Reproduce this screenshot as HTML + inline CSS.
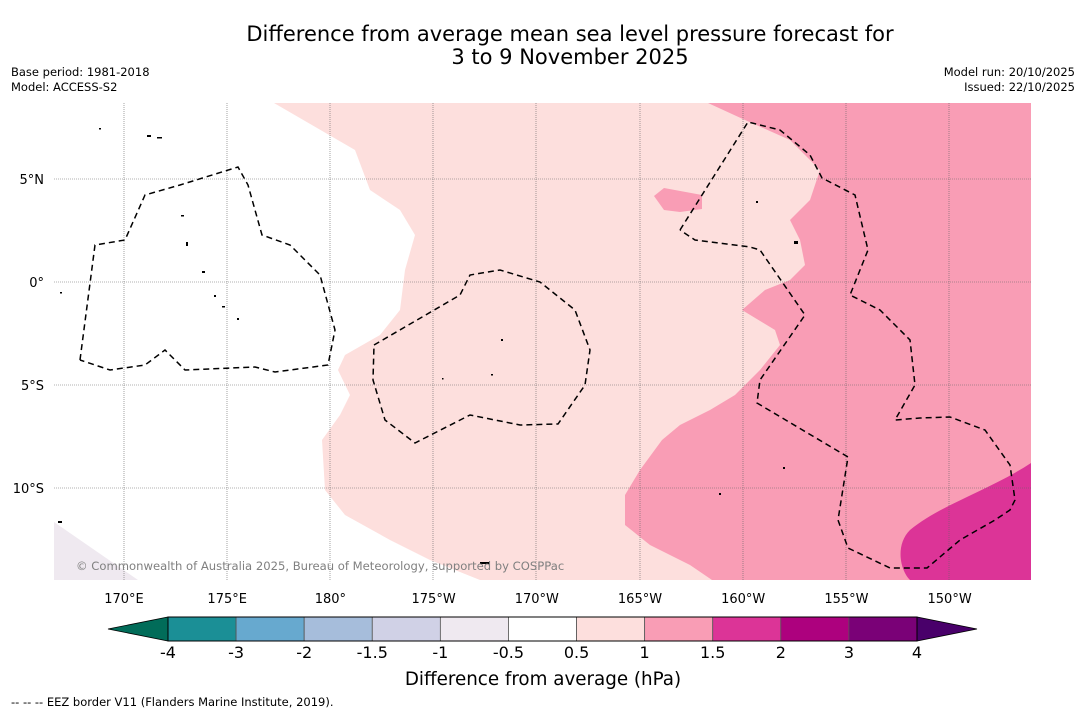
<!DOCTYPE html>
<html><head><meta charset="utf-8"><style>
body{margin:0;background:#fff;font-family:"DejaVu Sans","Liberation Sans",sans-serif;}
svg text{font-family:"DejaVu Sans","Liberation Sans",sans-serif;}
</style></head><body>
<svg id="c" width="1085" height="713" viewBox="0 0 1085 713" xmlns="http://www.w3.org/2000/svg">
<rect width="1085" height="713" fill="#fff"/>
<text x="570" y="41" font-size="21" text-anchor="middle">Difference from average mean sea level pressure forecast for</text>
<text x="570" y="64" font-size="21" text-anchor="middle">3 to 9 November 2025</text>
<text x="11" y="76" font-size="11.5">Base period: 1981-2018</text>
<text x="11" y="91" font-size="11.5">Model: ACCESS-S2</text>
<text x="1075" y="76" font-size="11.5" text-anchor="end">Model run: 20/10/2025</text>
<text x="1075" y="91" font-size="11.5" text-anchor="end">Issued: 22/10/2025</text>
<g>
<clipPath id="mc"><rect x="54" y="103" width="977" height="477"/></clipPath>
<g clip-path="url(#mc)">
<rect x="54" y="103" width="977" height="477" fill="#fff"/>
<polygon fill="#fddfdd" points="274,103 1031,103 1031,580 480,580 430,560 390,540 345,515 325,490 322,440 340,415 350,395 338,370 345,355 380,335 400,310 405,270 415,235 400,210 370,190 355,150"/>
<polygon fill="#f99db5" points="708,103 1031,103 1031,580 712,580 690,565 650,545 625,525 625,495 640,470 662,440 680,425 710,410 735,395 760,370 780,345 775,330 742,310 765,290 790,280 805,265 800,240 790,220 810,200 820,170 790,140 745,120"/>
<polygon fill="#f99db5" points="654,196 664,188 702,195 702,209 680,212 664,210"/>
<path fill="#dc3497" d="M1031,463 C990,490 940,505 910,530 C895,545 900,570 910,580 L1031,580 Z"/>
<polygon fill="#efe9f0" points="54,522 54,580 138,580"/>
<g stroke="#666" stroke-width="0.6" stroke-dasharray="1,1">
<line x1="124" y1="103" x2="124" y2="580"/><line x1="227" y1="103" x2="227" y2="580"/><line x1="330" y1="103" x2="330" y2="580"/><line x1="433" y1="103" x2="433" y2="580"/><line x1="536" y1="103" x2="536" y2="580"/><line x1="640" y1="103" x2="640" y2="580"/><line x1="743" y1="103" x2="743" y2="580"/><line x1="846" y1="103" x2="846" y2="580"/><line x1="949" y1="103" x2="949" y2="580"/>
<line x1="54" y1="179" x2="1031" y2="179"/><line x1="54" y1="282" x2="1031" y2="282"/><line x1="54" y1="385" x2="1031" y2="385"/><line x1="54" y1="488" x2="1031" y2="488"/>
</g>
<g fill="none" stroke="#000" stroke-width="1.5" stroke-dasharray="6,4">
<polyline points="80,360 95,245 125,240 145,195 180,185 238,167 248,185 262,235 290,245 320,275 335,330 328,365 275,372 255,367 185,370 165,350 145,365 110,370 80,360"/>
<polyline points="374,345 460,295 470,275 500,270 540,282 575,310 590,350 585,385 558,424 520,425 470,415 415,443 385,420 373,380 374,345"/>
<polyline points="680,230 748,122 780,130 810,155 822,178 855,195 868,250 850,295 880,310 910,340 915,385 895,420 920,418 950,417 985,430 1010,465 1015,500 1010,510 995,520 960,540 927,568 890,568 848,548 838,520 848,457 757,403 760,380 805,315 760,250 750,247 695,240 680,230"/>
</g>
<g fill="#000">
<rect x="147" y="135" width="4" height="2"/><rect x="157" y="137" width="5" height="1.5"/><rect x="181" y="215" width="3" height="1.5"/><rect x="186" y="242" width="2" height="4"/><rect x="202" y="271" width="3" height="2"/><rect x="214" y="295" width="2" height="2"/><rect x="222" y="306" width="3" height="1.5"/><rect x="237" y="318" width="2" height="2"/><rect x="501" y="339" width="2" height="2"/><rect x="491" y="374" width="2" height="1.5"/><rect x="756" y="201" width="2" height="2"/><rect x="794" y="241" width="4" height="3"/><rect x="783" y="467" width="2" height="2"/><rect x="58" y="521" width="4" height="2"/><rect x="480" y="562" width="10" height="2"/><rect x="719" y="493" width="2" height="2"/><rect x="60" y="292" width="2" height="1.5"/><rect x="99" y="128" width="2" height="1.5"/><rect x="442" y="378" width="1.5" height="1.5"/>
</g>
</g>
<text x="76" y="570" font-size="11.6" fill="#808080">© Commonwealth of Australia 2025, Bureau of Meteorology, supported by COSPPac</text>
</g>
<g id="axes" font-size="13"></g>
<g id="cbar"></g>
<text x="543" y="685" font-size="18.3" text-anchor="middle">Difference from average (hPa)</text>
<text x="11" y="706" font-size="11.5">--  --  -- EEZ border V11 (Flanders Marine Institute, 2019).</text>
</svg>
<script>
const lonTicks = [170, 175, 180, 185, 190, 195, 200, 205, 210];
const lonLabels = ["170°E","175°E","180°","175°W","170°W","165°W","160°W","155°W","150°W"];
const latTicks = [5, 0, -5, -10];
const latLabels = ["5°N","0°","5°S","10°S"];
const cbarLevels = ["-4","-3","-2","-1.5","-1","-0.5","0.5","1","1.5","2","3","4"];
const cbarColors = ["#1b8f96","#67a9cf","#a6bddb","#d0d1e6","#efe9f0","#ffffff","#fddfdd","#f99db5","#dc3497","#ad017e","#7a0177"];
const extendColors = ["#016c59","#49006a"];
const NS="http://www.w3.org/2000/svg";
const xOf = lon => 124 + (lon-170)*20.64;
const yOf = lat => 282 - lat*20.6;
const ax=document.getElementById('axes');
function mk(t,a,p){const e=document.createElementNS(NS,t);for(const k in a)e.setAttribute(k,a[k]);p.appendChild(e);return e;}
lonTicks.forEach((l,i)=>{const t=mk('text',{x:xOf(l),y:603,'text-anchor':'middle'},ax);t.textContent=lonLabels[i];

});
latTicks.forEach((l,i)=>{const t=mk('text',{x:44,y:yOf(l)+5,'text-anchor':'end'},ax);t.textContent=latLabels[i];

});
const cb=document.getElementById('cbar');
const x0=168,x1=917,y0=617,h=24,w=(x1-x0)/cbarColors.length;
const left=mk('polygon',{points:`108,${y0+h/2} ${x0},${y0} ${x0},${y0+h}`,fill:extendColors[0],stroke:'#000','stroke-width':0.8},cb);


const right=mk('polygon',{points:`977,${y0+h/2} ${x1},${y0} ${x1},${y0+h}`,fill:extendColors[1],stroke:'#000','stroke-width':0.8},cb);


cbarColors.forEach((c,i)=>{const r=mk('rect',{x:x0+i*w,y:y0,width:w,height:h,fill:c,stroke:'#555','stroke-width':0.8},cb);

});
mk('rect',{x:x0,y:y0,width:x1-x0,height:h,fill:'none',stroke:'#000','stroke-width':1},cb);
cbarLevels.forEach((l,i)=>{const t=mk('text',{x:x0+i*w,y:658,'text-anchor':'middle','font-size':16},cb);t.textContent=l;

});
</script>
</body></html>
